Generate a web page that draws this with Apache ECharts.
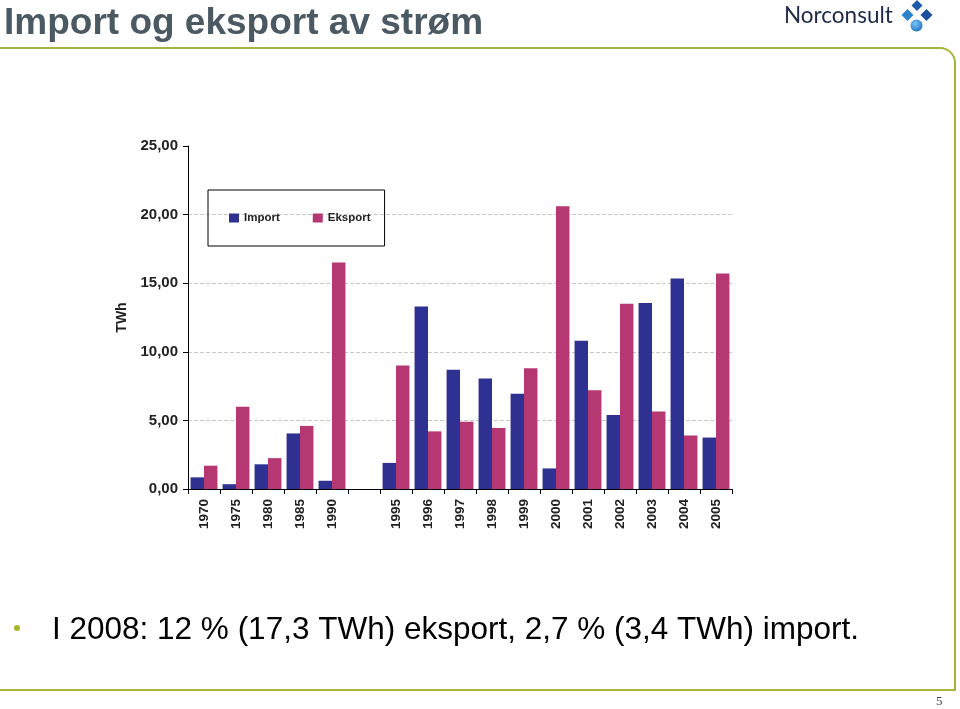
<!DOCTYPE html>
<html>
<head>
<meta charset="utf-8">
<script src="https://cdn.jsdelivr.net/npm/echarts@6/dist/echarts.min.js"></script>
<style>
html,body{margin:0;padding:0;background:#fff;}
#chart{width:960px;height:709px;}
</style>
</head>
<body>
<div id="chart"></div>
<script>
var categories = ['1970','1975','1980','1985','1990','','1995','1996','1997','1998','1999','2000','2001','2002','2003','2004','2005'];
var importVals = [0.85, 0.35, 1.8, 4.05, 0.6, '-', 1.9, 13.3, 8.7, 8.05, 6.95, 1.5, 10.8, 5.4, 13.55, 15.35, 3.75];
var eksportVals = [1.7, 6.0, 2.25, 4.6, 16.5, '-', 9.0, 4.2, 4.9, 4.45, 8.8, 20.6, 7.2, 13.5, 5.65, 3.9, 15.7];
var seriesNames = ['Import', 'Eksport'];
var yTicks = [0, 5, 10, 15, 20, 25];
var titleText = 'Import og eksport av strøm';
var bulletText = 'I 2008: 12 % (17,3 TWh) eksport, 2,7 % (3,4 TWh) import.';
var yAxisName = 'TWh';

var green = '#a6b43a';
var chart = echarts.init(document.getElementById('chart'), null, {renderer: 'canvas'});
var option = {
  animation: false,
  backgroundColor: '#fff',
  grid: {left: 188, right: 228, top: 146, bottom: 220, containLabel: false},
  legend: {
    data: seriesNames,
    left: 208, top: 190,
    orient: 'horizontal',
    padding: [22, 14, 22, 21],
    itemGap: 33,
    itemWidth: 10, itemHeight: 9,
    icon: 'rect',
    borderColor: '#000', borderWidth: 1,
    textStyle: {fontFamily: 'Liberation Sans, Arial, sans-serif', fontWeight: 'bold', fontSize: 11.5, color: '#222'}
  },
  xAxis: {
    type: 'category',
    data: categories,
    boundaryGap: true,
    axisLine: {lineStyle: {color: '#000', width: 1}},
    axisTick: {show: true, length: 5, lineStyle: {color: '#000'}},
    axisLabel: {rotate: 90, interval: 0, margin: 10, fontFamily: 'Liberation Sans, Arial, sans-serif', fontWeight: 'bold', fontSize: 13.5, color: '#222'},
    splitLine: {show: false}
  },
  yAxis: {
    type: 'value',
    min: yTicks[0], max: yTicks[yTicks.length - 1], interval: 5,
    name: yAxisName,
    nameLocation: 'middle',
    nameGap: 52,
    nameRotate: 90,
    nameTextStyle: {fontFamily: 'Liberation Sans, Arial, sans-serif', fontWeight: 'bold', fontSize: 14, color: '#222'},
    axisLine: {show: true, lineStyle: {color: '#000', width: 1}},
    axisTick: {show: true, length: 5, lineStyle: {color: '#000'}},
    axisLabel: {
      margin: 10,
      fontFamily: 'Liberation Sans, Arial, sans-serif', fontWeight: 'bold', fontSize: 15, color: '#222',
      formatter: function (v) { return v.toFixed(2).replace('.', ','); }
    },
    splitLine: {show: true, showMinLine: false, showMaxLine: false, lineStyle: {color: '#c9c9c9', type: [4, 2], width: 1}}
  },
  series: [
    {name: seriesNames[0], type: 'bar', data: importVals, barGap: '0%', barCategoryGap: '16%', itemStyle: {color: '#2e3192'}},
    {name: seriesNames[1], type: 'bar', data: eksportVals, barGap: '0%', barCategoryGap: '16%', itemStyle: {color: '#b63872'}}
  ],
  graphic: [
    {type: 'text', left: 4, top: 5, style: {text: titleText, font: 'bold 37px "Liberation Sans", Arial, sans-serif', fill: '#4b5963'}},
    {type: 'rect', shape: {x: -5, y: 48, width: 960, height: 642, r: [0, 15, 0, 0]}, style: {fill: 'none', stroke: green, lineWidth: 2}, z: -1},
    {type: 'text', left: 784, top: 4, style: {text: 'Norconsult', font: '22.5px Lato, "Open Sans", sans-serif', fill: '#1e2a48'}},
    {type: 'polygon', shape: {points: [[917, 0], [922.5, 5.5], [917, 11], [911.5, 5.5]]}, style: {fill: '#1f5aa8'}},
    {type: 'polygon', shape: {points: [[907.5, 9], [913.5, 15], [907.5, 21], [901.5, 15]]}, style: {fill: '#2d82cc'}},
    {type: 'polygon', shape: {points: [[926.5, 9], [932.5, 15], [926.5, 21], [920.5, 15]]}, style: {fill: '#1d4f9c'}},
    {type: 'circle', shape: {cx: 916.5, cy: 25.5, r: 6}, style: {fill: new echarts.graphic.RadialGradient(0.4, 0.35, 0.7, [{offset: 0, color: '#7cc3f2'}, {offset: 1, color: '#1f74c4'}])}},
    {type: 'circle', shape: {cx: 17, cy: 628, r: 3}, style: {fill: '#a4b82a'}},
    {type: 'text', left: 52, top: 614, style: {text: bulletText, font: '31.5px "Liberation Sans", Arial, sans-serif', fill: '#000'}},
    {type: 'text', left: 936, top: 695, style: {text: '5', font: '13px "Liberation Serif", "DejaVu Serif", serif', fill: '#444'}}
  ]
};
chart.setOption(option);
</script>
</body>
</html>
